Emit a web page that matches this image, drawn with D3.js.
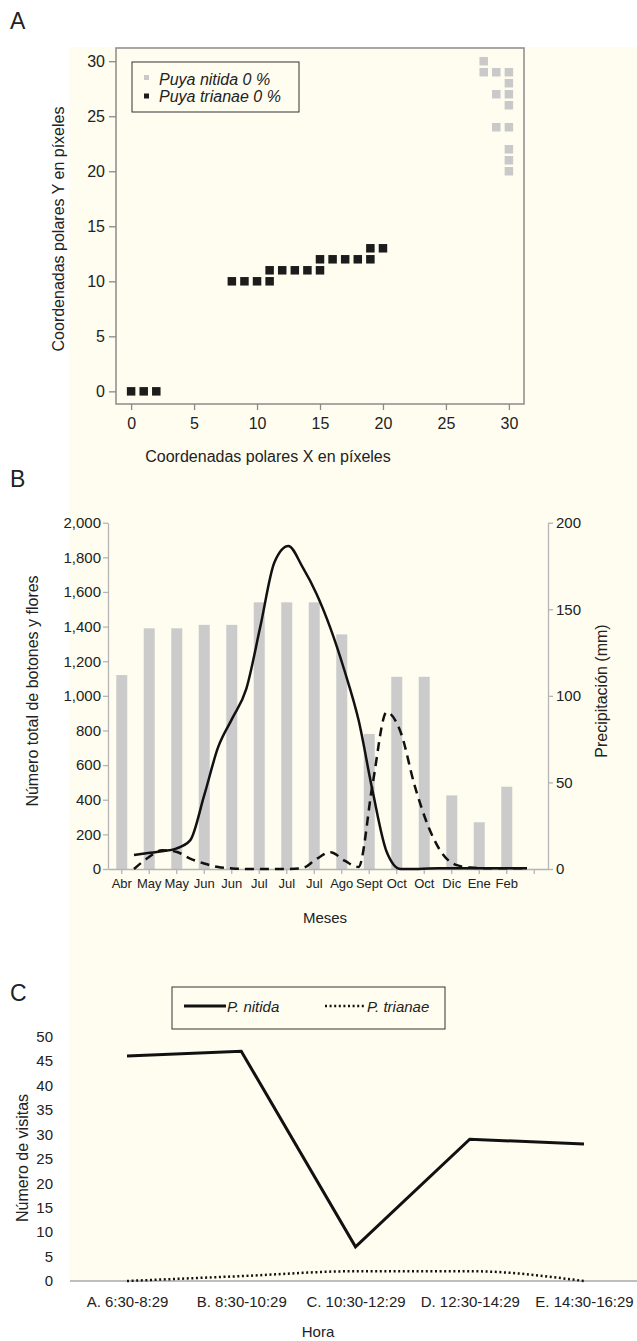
<!DOCTYPE html>
<html>
<head>
<meta charset="utf-8">
<script src="https://cdn.jsdelivr.net/npm/d3@7"></script>
<style>
  body { margin: 0; background: #fff; }
  svg { display: block; font-family: "Liberation Sans", Arial, sans-serif; }
</style>
</head>
<body>
<svg id="fig" width="637" height="1341"></svg>
<script>
// ---- panel A : polar coordinates
const nitidaX  = [28, 28, 29, 30, 30, 29, 30, 30, 29, 30, 30, 30, 30];
const nitidaY  = [30, 29, 29, 29, 28, 27, 27, 26, 24, 24, 22, 21, 20];
const trianaeX = [0, 1, 2, 8, 9, 10, 11, 11, 12, 13, 14, 15, 15, 16, 17, 18, 19, 19, 20];
const trianaeY = [0, 0, 0, 10, 10, 10, 10, 11, 11, 11, 11, 11, 12, 12, 12, 12, 12, 13, 13];
const ticksA   = [0, 5, 10, 15, 20, 25, 30];

// ---- panel B : phenology and rain
const months  = ["Abr", "May", "May", "Jun", "Jun", "Jul", "Jul", "Jul", "Ago", "Sept", "Oct", "Oct", "Dic", "Ene", "Feb"];
const precip  = [112, 139, 139, 141, 141, 154, 154, 154, 135.5, 78, 111, 111, 42.5, 27, 47.5];
// 29 samples each
const budsNitida  = [81, 92, 102, 118, 165, 425, 705, 870, 1040, 1400, 1770, 1865, 1745, 1590, 1390,
                     1145, 860, 450, 100, 0, 0, 3, 4, 5, 5, 5, 5, 5, 5];
const budsTrianae = [0, 65, 108, 100, 60, 32, 11, 3, 0, 0, 0, 0, 5, 58, 97,
                     48, 12, 490, 905, 790, 480, 240, 85, 22, 8, 5, 5, 5, 5];
const ticksLeft  = [0, 200, 400, 600, 800, 1000, 1200, 1400, 1600, 1800, 2000];
const ticksRight = [0, 50, 100, 150, 200];

// ---- panel C : visits
const hours         = ["A. 6:30-8:29", "B. 8:30-10:29", "C. 10:30-12:29", "D. 12:30-14:29", "E. 14:30-16:29"];
const visitsNitida  = [46, 47, 7, 29, 28];
const visitsTrianae = [0, 1, 2, 2, 0];
const ticksC        = [0, 5, 10, 15, 20, 25, 30, 35, 40, 45, 50];

const svg = d3.select("#fig");
const ink = "#222";

svg.append("rect").attr("x", 69).attr("y", 47).attr("width", 568).attr("height", 1234).attr("fill", "#fefdf0");

function letter(t, y) {
  svg.append("text").attr("x", 10).attr("y", y).attr("font-size", 23).attr("fill", ink).text(t);
}
letter("A", 29); letter("B", 487); letter("C", 1001);

function styleAxis(g, col, size) {
  g.selectAll("text").attr("fill", ink).attr("font-size", size);
  g.selectAll("line").attr("stroke", col).attr("stroke-width", 1.3);
  g.select(".domain").attr("stroke", col).attr("stroke-width", 1.3);
}

// ================= A
const xA = d3.scaleLinear().domain([-1.2, 31.2]).range([116, 524]);
const yA = d3.scaleLinear().domain([-1.15, 31.2]).range([404, 48]);

const gA = svg.append("g");
gA.append("rect").attr("x", 116).attr("y", 48).attr("width", 408).attr("height", 356)
  .attr("fill", "none").attr("stroke", "#8a8a8a").attr("stroke-width", 1.5);

const axAy = gA.append("g").attr("transform", "translate(116,0)")
  .call(d3.axisLeft(yA).tickValues(ticksA).tickSize(7).tickPadding(4));
axAy.select(".domain").remove();
styleAxis(axAy, "#8a8a8a", 16);

const axAx = gA.append("g").attr("transform", "translate(0,404)")
  .call(d3.axisBottom(xA).tickValues(ticksA).tickSize(6).tickPadding(8));
axAx.select(".domain").remove();
styleAxis(axAx, "#8a8a8a", 16);

const sq = 8.5;
gA.selectAll(".nit").data(nitidaX).enter().append("rect")
  .attr("x", (d) => xA(d) - sq / 2).attr("y", (d, i) => yA(nitidaY[i]) - sq / 2)
  .attr("width", sq).attr("height", sq).attr("fill", "#c9c9c9");
gA.selectAll(".tri").data(trianaeX).enter().append("rect")
  .attr("x", (d) => xA(d) - sq / 2).attr("y", (d, i) => yA(trianaeY[i]) - sq / 2)
  .attr("width", sq).attr("height", sq).attr("fill", "#1c1c1c");

gA.append("rect").attr("x", 132).attr("y", 62).attr("width", 167).attr("height", 50)
  .attr("fill", "none").attr("stroke", "#333").attr("stroke-width", 1);
gA.append("rect").attr("x", 144).attr("y", 75).attr("width", 5).attr("height", 5).attr("fill", "#c9c9c9");
gA.append("rect").attr("x", 144).attr("y", 93.5).attr("width", 5).attr("height", 5).attr("fill", "#1c1c1c");
gA.append("text").attr("x", 159).attr("y", 85).attr("font-size", 16).attr("font-style", "italic").attr("fill", ink).text("Puya nitida 0 %");
gA.append("text").attr("x", 159).attr("y", 102).attr("font-size", 16).attr("font-style", "italic").attr("fill", ink).text("Puya trianae 0 %");

gA.append("text").attr("x", 268).attr("y", 462).attr("text-anchor", "middle").attr("font-size", 16).attr("fill", ink)
  .text("Coordenadas polares X en píxeles");
gA.append("text").attr("transform", "translate(64,229) rotate(-90)").attr("text-anchor", "middle")
  .attr("font-size", 16).attr("fill", ink).text("Coordenadas polares Y en píxeles");

// ================= B
const xB = d3.scaleBand().domain(d3.range(months.length + 1)).range([108, 548])
  .paddingInner(0.6).paddingOuter(0.3);
const yL = d3.scaleLinear().domain([0, 2000]).range([869, 522.7]);
const yR = d3.scaleLinear().domain([0, 200]).range([869, 522.7]);
const xLine = d3.scaleLinear().domain([0, budsNitida.length - 1]).range([134, 527]);

const gB = svg.append("g");
gB.selectAll(".bar").data(precip).enter().append("rect")
  .attr("x", (d, i) => xB(i)).attr("y", (d) => yR(d))
  .attr("width", xB.bandwidth()).attr("height", (d) => yR(0) - yR(d))
  .attr("fill", "#cbcbcb");

const axL = gB.append("g").attr("transform", "translate(108,0)")
  .call(d3.axisLeft(yL).tickValues(ticksLeft).tickFormat(d3.format(",")).tickSize(5).tickSizeOuter(0).tickPadding(2));
styleAxis(axL, "#b5b5b5", 15);
const axR = gB.append("g").attr("transform", "translate(548,0)")
  .call(d3.axisRight(yR).tickValues(ticksRight).tickSize(5).tickSizeOuter(0).tickPadding(3));
styleAxis(axR, "#b5b5b5", 15);
const axB = gB.append("g").attr("transform", "translate(0,869)")
  .call(d3.axisBottom(xB).tickFormat((i) => months[i] || "").tickSize(5).tickSizeOuter(0).tickPadding(5));
styleAxis(axB, "#b5b5b5", 13);

const lineB = (vals) => d3.line().x((d, i) => xLine(i)).y((d) => yL(d)).curve(d3.curveMonotoneX)(vals);
gB.append("path").attr("d", lineB(budsNitida)).attr("fill", "none").attr("stroke", "#111").attr("stroke-width", 2.5);
gB.append("path").attr("d", lineB(budsTrianae)).attr("fill", "none").attr("stroke", "#111").attr("stroke-width", 2.5)
  .attr("stroke-dasharray", "9,6");

gB.append("text").attr("x", 325).attr("y", 923).attr("text-anchor", "middle").attr("font-size", 15).attr("fill", ink).text("Meses");
gB.append("text").attr("transform", "translate(38,691) rotate(-90)").attr("text-anchor", "middle")
  .attr("font-size", 16).attr("fill", ink).text("Número total de botones y flores");
gB.append("text").attr("transform", "translate(607,691) rotate(-90)").attr("text-anchor", "middle")
  .attr("font-size", 16).attr("fill", ink).text("Precipitación (mm)");

// ================= C
const xC = d3.scalePoint().domain(hours).range([127, 584]);
const yC = d3.scaleLinear().domain([0, 50]).range([1281, 1036.5]);

const gC = svg.append("g");
gC.append("line").attr("x1", 70).attr("x2", 637).attr("y1", yC(0)).attr("y2", yC(0))
  .attr("stroke", "#a8a8a8").attr("stroke-width", 1.6);

const axCy = gC.append("g").attr("transform", "translate(56,0)")
  .call(d3.axisLeft(yC).tickValues(ticksC).tickSize(0).tickPadding(3));
axCy.select(".domain").remove();
styleAxis(axCy, "none", 15);
const axCx = gC.append("g").attr("transform", "translate(0,1281)")
  .call(d3.axisBottom(xC).tickSize(0).tickPadding(15));
axCx.select(".domain").remove();
styleAxis(axCx, "none", 15);

gC.append("path")
  .attr("d", d3.line().x((d, i) => xC(hours[i])).y((d) => yC(d))(visitsNitida))
  .attr("fill", "none").attr("stroke", "#111").attr("stroke-width", 3);
gC.append("path")
  .attr("d", d3.line().x((d, i) => xC(hours[i])).y((d) => yC(d)).curve(d3.curveMonotoneX)(visitsTrianae))
  .attr("fill", "none").attr("stroke", "#111").attr("stroke-width", 2.5).attr("stroke-dasharray", "2,2.6");

gC.append("rect").attr("x", 172).attr("y", 987).attr("width", 273).attr("height", 42)
  .attr("fill", "none").attr("stroke", "#333").attr("stroke-width", 1);
gC.append("line").attr("x1", 184).attr("x2", 226).attr("y1", 1006).attr("y2", 1006).attr("stroke", "#111").attr("stroke-width", 3);
gC.append("line").attr("x1", 325).attr("x2", 366).attr("y1", 1006).attr("y2", 1006).attr("stroke", "#111")
  .attr("stroke-width", 2.5).attr("stroke-dasharray", "2,2.6");
gC.append("text").attr("x", 227).attr("y", 1012).attr("font-size", 15).attr("font-style", "italic").attr("fill", ink).text("P. nitida");
gC.append("text").attr("x", 367).attr("y", 1012).attr("font-size", 15).attr("font-style", "italic").attr("fill", ink).text("P. trianae");

gC.append("text").attr("x", 318).attr("y", 1337).attr("text-anchor", "middle").attr("font-size", 15).attr("fill", ink).text("Hora");
gC.append("text").attr("transform", "translate(28,1158) rotate(-90)").attr("text-anchor", "middle")
  .attr("font-size", 16).attr("fill", ink).text("Número de visitas");
</script>
</body>
</html>
